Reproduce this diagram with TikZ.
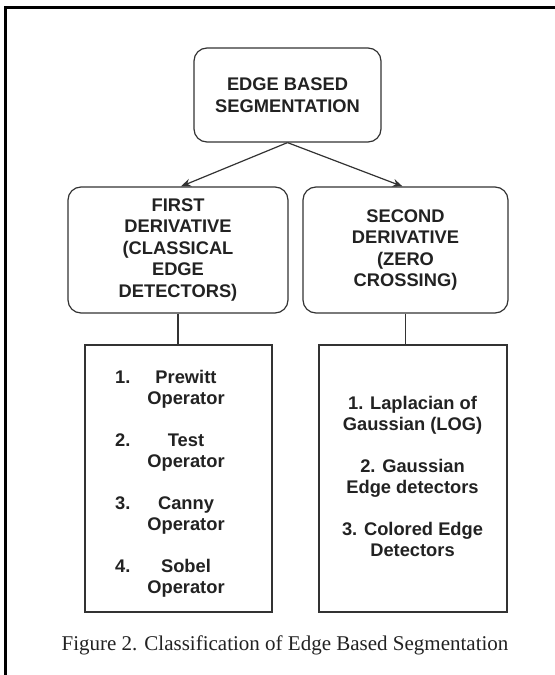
\documentclass[tikz,border=0pt]{standalone}
\usepackage{fontspec}
\setmainfont{Liberation Serif}
\newfontfamily\arialfont{Liberation Sans}
\usetikzlibrary{arrows.meta}
\definecolor{ink}{HTML}{222222}
\definecolor{linec}{HTML}{333333}
\tikzset{
  headbox/.style={draw=linec, line width=1.2bp, rounded corners=13bp, inner sep=0pt,
    align=center, text=ink, font=\arialfont\bfseries\fontsize{18.3bp}{21.5bp}\selectfont},
  listbox/.style={draw=linec, line width=1.2bp, inner sep=0pt},
  itemtxt/.style={anchor=base, inner sep=0pt, text=ink, font=\arialfont\bfseries\fontsize{18.3bp}{21.5bp}\selectfont},
  numtxt/.style={itemtxt, anchor=base west},
  conn/.style={draw=linec, line width=1.2bp},
  arr/.style={conn, -{Stealth[length=10bp,width=8bp]}},
  frameline/.style={draw=black, line width=2.2bp}
}
\begin{document}
\begin{tikzpicture}[x=1bp,y=-1bp]
\useasboundingbox (0,0) rectangle (555,675);
\fill[white] (0,0) rectangle (555,675);
% outer frame (left and top visible)
\coordinate (fTL) at (5.5,7.5);
\coordinate (fTR) at (556,7.5);
\coordinate (fBL) at (5.5,676);
\draw[frameline] (fTR) -- (fTL) -- (fBL);

% heading boxes
\node[headbox, minimum width=187bp, minimum height=94bp] (top) at (287.5,95) {EDGE BASED\\SEGMENTATION};
\node[headbox, minimum width=220bp, minimum height=126bp] (first) at (178,250) {FIRST\\DERIVATIVE\\(CLASSICAL\\EDGE\\DETECTORS)};
\node[headbox, minimum width=205bp, minimum height=126bp] (second) at (405.5,250) {SECOND\\DERIVATIVE\\(ZERO\\CROSSING)};

% list boxes
\node[listbox, minimum width=187bp, minimum height=267bp] (list1) at (178.5,478.5) {};
\node[listbox, minimum width=188bp, minimum height=267bp] (list2) at (413,478.5) {};

% connectors
\draw[arr] (top.south) -- ([xshift=3bp]first.north);
\draw[arr] (top.south) -- ([xshift=-3bp]second.north);
\draw[conn] (first.south) -- (first.south |- list1.north);
\draw[conn] (second.south) -- (second.south |- list2.north);

% left list
\node[numtxt] (n1) at (115,383) {1.};
\node[itemtxt] (a1) at (186,383) {Prewitt};
\node[itemtxt] (b1) at (186,404.5) {Operator};
\node[numtxt] (n2) at (115,446) {2.};
\node[itemtxt] (a2) at (186,446) {Test};
\node[itemtxt] (b2) at (186,467.5) {Operator};
\node[numtxt] (n3) at (115,509) {3.};
\node[itemtxt] (a3) at (186,509) {Canny};
\node[itemtxt] (b3) at (186,530.5) {Operator};
\node[numtxt] (n4) at (115,572) {4.};
\node[itemtxt] (a4) at (186,572) {Sobel};
\node[itemtxt] (b4) at (186,593.5) {Operator};

% right list
\node[itemtxt] (r1a) at (412.5,409) {1. Laplacian of};
\node[itemtxt] (r1b) at (412.5,430.5) {Gaussian (LOG)};
\node[itemtxt] (r2a) at (412.5,472) {2. Gaussian};
\node[itemtxt] (r2b) at (412.5,493.5) {Edge detectors};
\node[itemtxt] (r3a) at (412.5,535) {3. Colored Edge};
\node[itemtxt] (r3b) at (412.5,556.5) {Detectors};

% caption
\node[anchor=base, inner sep=0pt, text=ink, font=\fontsize{21bp}{24bp}\selectfont] (cap) at (285,650) {Figure 2. Classification of Edge Based Segmentation};
\end{tikzpicture}
\end{document}
